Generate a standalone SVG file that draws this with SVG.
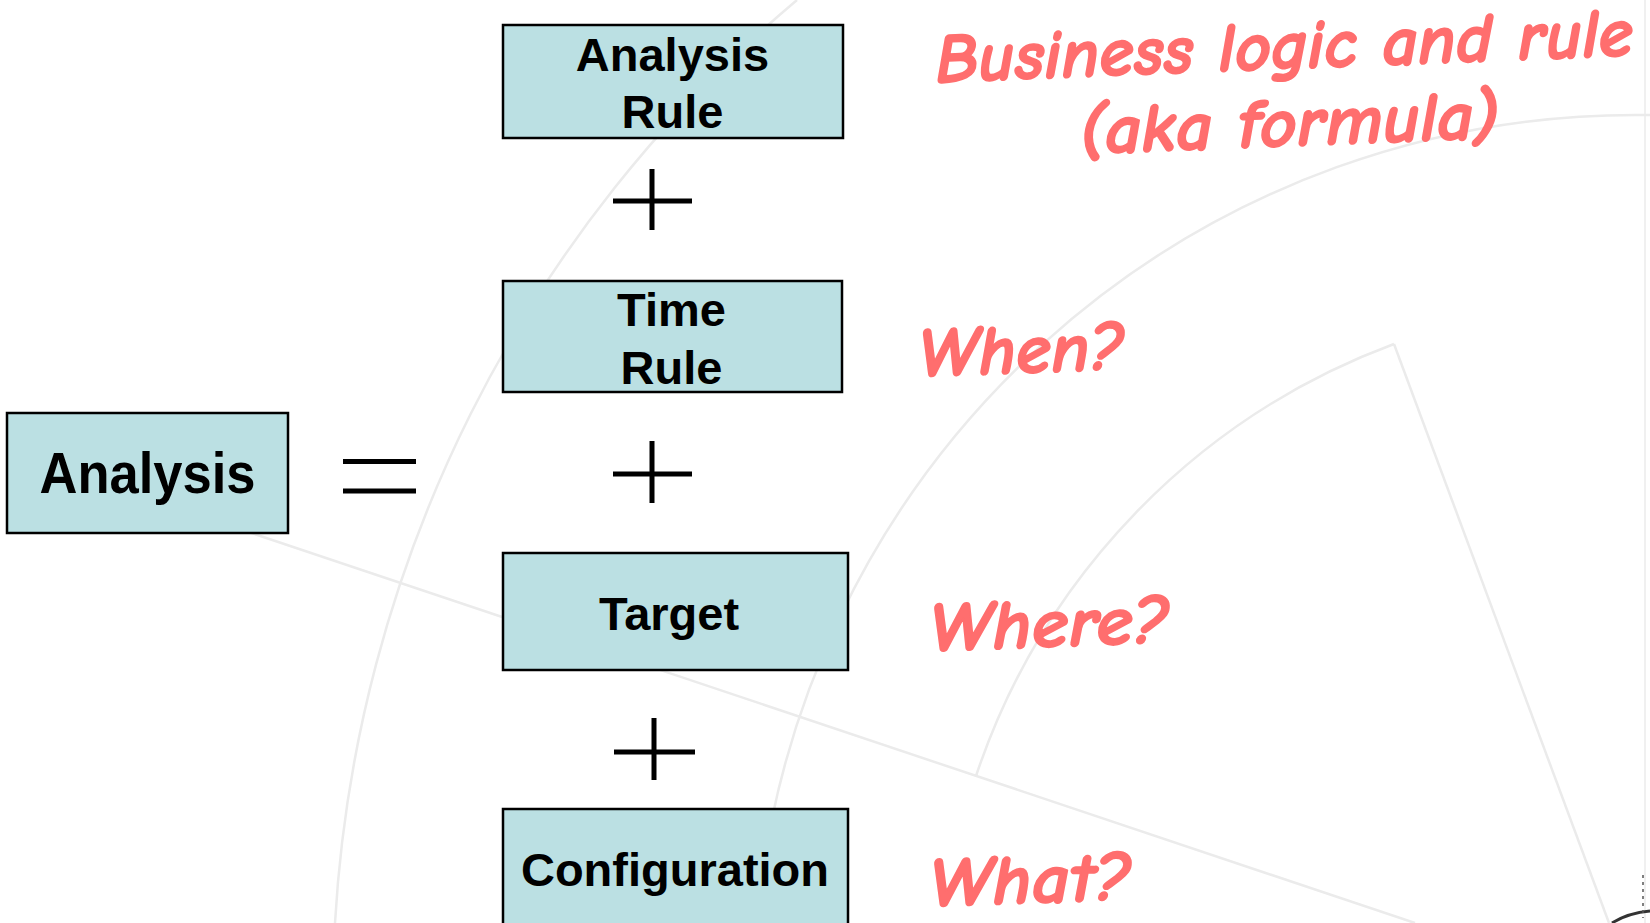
<svg xmlns="http://www.w3.org/2000/svg" width="1650" height="923" viewBox="0 0 1650 923">
  <style>
    .bg { fill: none; stroke: #ebebeb; stroke-width: 2.5; }
    .box { fill: #bbe0e3; stroke: #000; stroke-width: 2.5; }
    .lbl { font-family: "Liberation Sans", Arial, sans-serif; font-weight: bold; font-size: 47px; fill: #000; text-anchor: middle; }
    .note { font-family: "Comic Sans MS", "Comic Neue", Lato, "DejaVu Sans", sans-serif; font-weight: bold; font-style: italic; font-size: 70px; fill: #ff6e6e; stroke: #ff6e6e; stroke-width: 1.6; stroke-linejoin: round; text-anchor: middle; }
    .op { stroke: #000; stroke-width: 5; fill: none; }
  </style>
  <rect width="1650" height="923" fill="#ffffff"/>
  <g id="background">
    <path class="bg" d="M 797 0 A 1303 1303 0 0 0 335 923"/>
    <path class="bg" d="M 1650 115 A 882 882 0 0 0 757 923"/>
    <path class="bg" d="M 1394 344 A 696 696 0 0 0 976 776"/>
    <path class="bg" d="M 1394 344 L 1609 923"/>
    <path class="bg" d="M 150 499 L 1415 923"/>
    <path class="bg" d="M 1645 0 L 1645 923" style="stroke-width:1.5"/>
    <path d="M 1612 923 Q 1628 913 1650 911" fill="none" stroke="#333" stroke-width="3"/>
    <path d="M 1643 875 L 1643 918" fill="none" stroke="#555" stroke-width="1.5" stroke-dasharray="3 4"/>
  </g>
  <g id="operators">
    <path class="op" d="M 343 461.5 H 416 M 343 491 H 416"/>
    <path class="op" d="M 613 201 H 692 M 652 169 V 230"/>
    <path class="op" d="M 613 474 H 692 M 652 441 V 503"/>
    <path class="op" d="M 614 752 H 695 M 654 718 V 780"/>
  </g>
  <g id="node-analysis">
    <rect class="box" x="7" y="413" width="281" height="120"/>
    <text class="lbl" x="147.5" y="493" style="font-size:58px" textLength="216" lengthAdjust="spacingAndGlyphs">Analysis</text>
  </g>
  <g id="node-analysis-rule">
    <rect class="box" x="503" y="25" width="340" height="113"/>
    <text class="lbl" x="672.5" y="71">Analysis</text>
    <text class="lbl" x="672.5" y="128">Rule</text>
  </g>
  <g id="node-time-rule">
    <rect class="box" x="503" y="281" width="339" height="111"/>
    <text class="lbl" x="671.5" y="326">Time</text>
    <text class="lbl" x="671.5" y="384">Rule</text>
  </g>
  <g id="node-target">
    <rect class="box" x="503" y="553" width="345" height="117"/>
    <text class="lbl" x="669" y="630">Target</text>
  </g>
  <g id="node-configuration">
    <rect class="box" x="503" y="809" width="345" height="130"/>
    <text class="lbl" x="675" y="886">Configuration</text>
  </g>
  <g id="notes">
    <text class="note" x="1285" y="69" transform="rotate(-2.2 1285 69)" textLength="698" lengthAdjust="spacingAndGlyphs">Business logic and rule</text>
    <text class="note" x="1290" y="146" transform="rotate(-2.2 1290 146)" textLength="420" lengthAdjust="spacingAndGlyphs">(aka formula)</text>
    <text class="note" x="1022" y="373" transform="rotate(-2 1022 373)" textLength="206" lengthAdjust="spacingAndGlyphs">When?</text>
    <text class="note" x="1050" y="647" transform="rotate(-2 1050 647)" textLength="240" lengthAdjust="spacingAndGlyphs">Where?</text>
    <text class="note" x="1031" y="903" transform="rotate(-2 1031 903)" textLength="202" lengthAdjust="spacingAndGlyphs">What?</text>
  </g>
</svg>
